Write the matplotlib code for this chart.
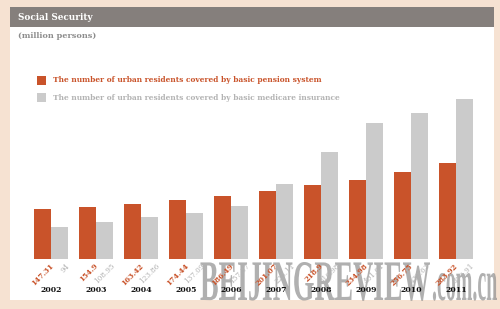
#!/usr/bin/env python3

import matplotlib
matplotlib.use("Agg")
import matplotlib.pyplot as plt
from matplotlib.patches import Rectangle, PathPatch
from matplotlib.textpath import TextPath
from matplotlib.font_manager import FontProperties
from matplotlib.transforms import Affine2D
import numpy as np


YEARS = ["2002", "2003", "2004", "2005", "2006", "2007", "2008", "2009", "2010", "2011"]
PENSION = [147.31, 154.9, 163.42, 174.44, 186.49, 201.07, 218.9, 234.98, 256.75, 283.92]
MEDICARE = [94, 108.95, 123.86, 137.09, 157.37, 223.11, 316.98, 401.61, 432.63, 472.91]
PENSION_LABELS = ["147.31", "154.9", "163.42", "174.44", "186.49", "201.07", "218.9", "234.98", "256.75", "283.92"]
MEDICARE_LABELS = ["94", "108.95", "123.86", "137.09", "157.37", "223.11", "316.98", "401.61", "432.63", "472.91"]

TITLE = "Social Security"
UNIT = "(million persons)"
LEGEND_PENSION = "The number of urban residents covered by basic pension system"
LEGEND_MEDICARE = "The number of urban residents covered by basic medicare insurance"

BEIGE = "#f6e2d2"
ORANGE = "#c9532a"
GREY = "#cbcbcb"
GREY_TEXT = "#b3b3b3"
BAR_HEAD = "#857f7c"
W, H = 500, 309

SERIF = "DejaVu Serif"


def px_box(left, top, right, bottom):
    # pixel box -> figure fraction [l, b, w, h]
    return [left / W, 1 - bottom / H, (right - left) / W, (bottom - top) / H]


def fitted_text(ax, s, left, right, baseline, top_height, color):
    # text path stretched so its width / top height match a pixel box
    fp = FontProperties(family="Liberation Serif", weight="bold")
    path = TextPath((0, 0), s, size=50, prop=fp)
    verts = path.vertices
    x0, x1 = verts[:, 0].min(), verts[:, 0].max()
    ytop = verts[:, 1].max()
    sx = (right - left) / (x1 - x0)
    sy = top_height / ytop
    tr = Affine2D().translate(-x0, 0).scale(sx, -sy).translate(left, baseline)
    ax.add_patch(PathPatch(tr.transform_path(path), facecolor=color,
                           edgecolor="none", alpha=0.7))


def main():
    fig = plt.figure(figsize=(W / 100, H / 100), dpi=100, facecolor=BEIGE)

    # background / decoration layer in pixel coordinates
    bg = fig.add_axes([0, 0, 1, 1])
    bg.set_xlim(0, W)
    bg.set_ylim(H, 0)
    bg.axis("off")
    bg.add_patch(Rectangle((10, 7), 484, 293, facecolor="white", edgecolor="none"))
    bg.add_patch(Rectangle((10, 7), 484, 20, facecolor=BAR_HEAD, edgecolor="none"))
    bg.text(18, 17.5, TITLE, color="white", fontsize=6.4, fontweight="bold",
            family=SERIF, va="center", ha="left")
    bg.text(18, 36.5, UNIT, color="#8c8c8c", fontsize=5.9, fontweight="bold",
            family=SERIF, va="center", ha="left")

    bg.add_patch(Rectangle((37, 76), 9, 9, facecolor=ORANGE, edgecolor="none"))
    bg.text(53, 80.5, LEGEND_PENSION, color=ORANGE, fontsize=5.4, fontweight="bold",
            family=SERIF, va="center", ha="left")
    bg.add_patch(Rectangle((37, 93), 9, 9, facecolor=GREY, edgecolor="none"))
    bg.text(53, 97.5, LEGEND_MEDICARE, color=GREY_TEXT, fontsize=5.4, fontweight="bold",
            family=SERIF, va="center", ha="left")

    # bars
    ax = fig.add_axes(px_box(28.5, 259 - 500 * 0.338, 478.5, 259))
    ax.set_facecolor("none")
    x = np.arange(len(YEARS))
    bw = 0.367
    ax.bar(x - bw / 2, PENSION, width=bw, color=ORANGE, linewidth=0)
    ax.bar(x + bw / 2, MEDICARE, width=bw, color=GREY, linewidth=0)
    ax.set_xlim(-0.5, len(YEARS) - 0.5)
    ax.set_ylim(0, 500)
    ax.axis("off")

    for i in range(len(YEARS)):
        ax.annotate(PENSION_LABELS[i], (x[i] - bw * 0.1, 0), xytext=(0, -2),
                    textcoords="offset points", rotation=45, rotation_mode="anchor",
                    ha="right", va="top", fontsize=5.2, color=ORANGE,
                    fontweight="bold", family=SERIF, annotation_clip=False)
        ax.annotate(MEDICARE_LABELS[i], (x[i] + bw * 0.9, 0), xytext=(0, -2),
                    textcoords="offset points", rotation=45, rotation_mode="anchor",
                    ha="right", va="top", fontsize=5.2, color=GREY_TEXT,
                    family=SERIF, annotation_clip=False)
        ax.annotate(YEARS[i], (x[i], 0), xytext=(0, -22), textcoords="offset points",
                    ha="center", va="center", fontsize=5.6, fontweight="bold",
                    color="#111111", family=SERIF, annotation_clip=False)

    # watermark
    fitted_text(bg, "BEIJINGREVIEW", 200, 430, 300, 38, "#8f8f8f")
    fitted_text(bg, ".com.cn", 432, 497, 300, 27, "#8f8f8f")

    fig.savefig("out.png", dpi=100, facecolor=BEIGE)
    plt.close(fig)


if __name__ == "__main__":
    main()
